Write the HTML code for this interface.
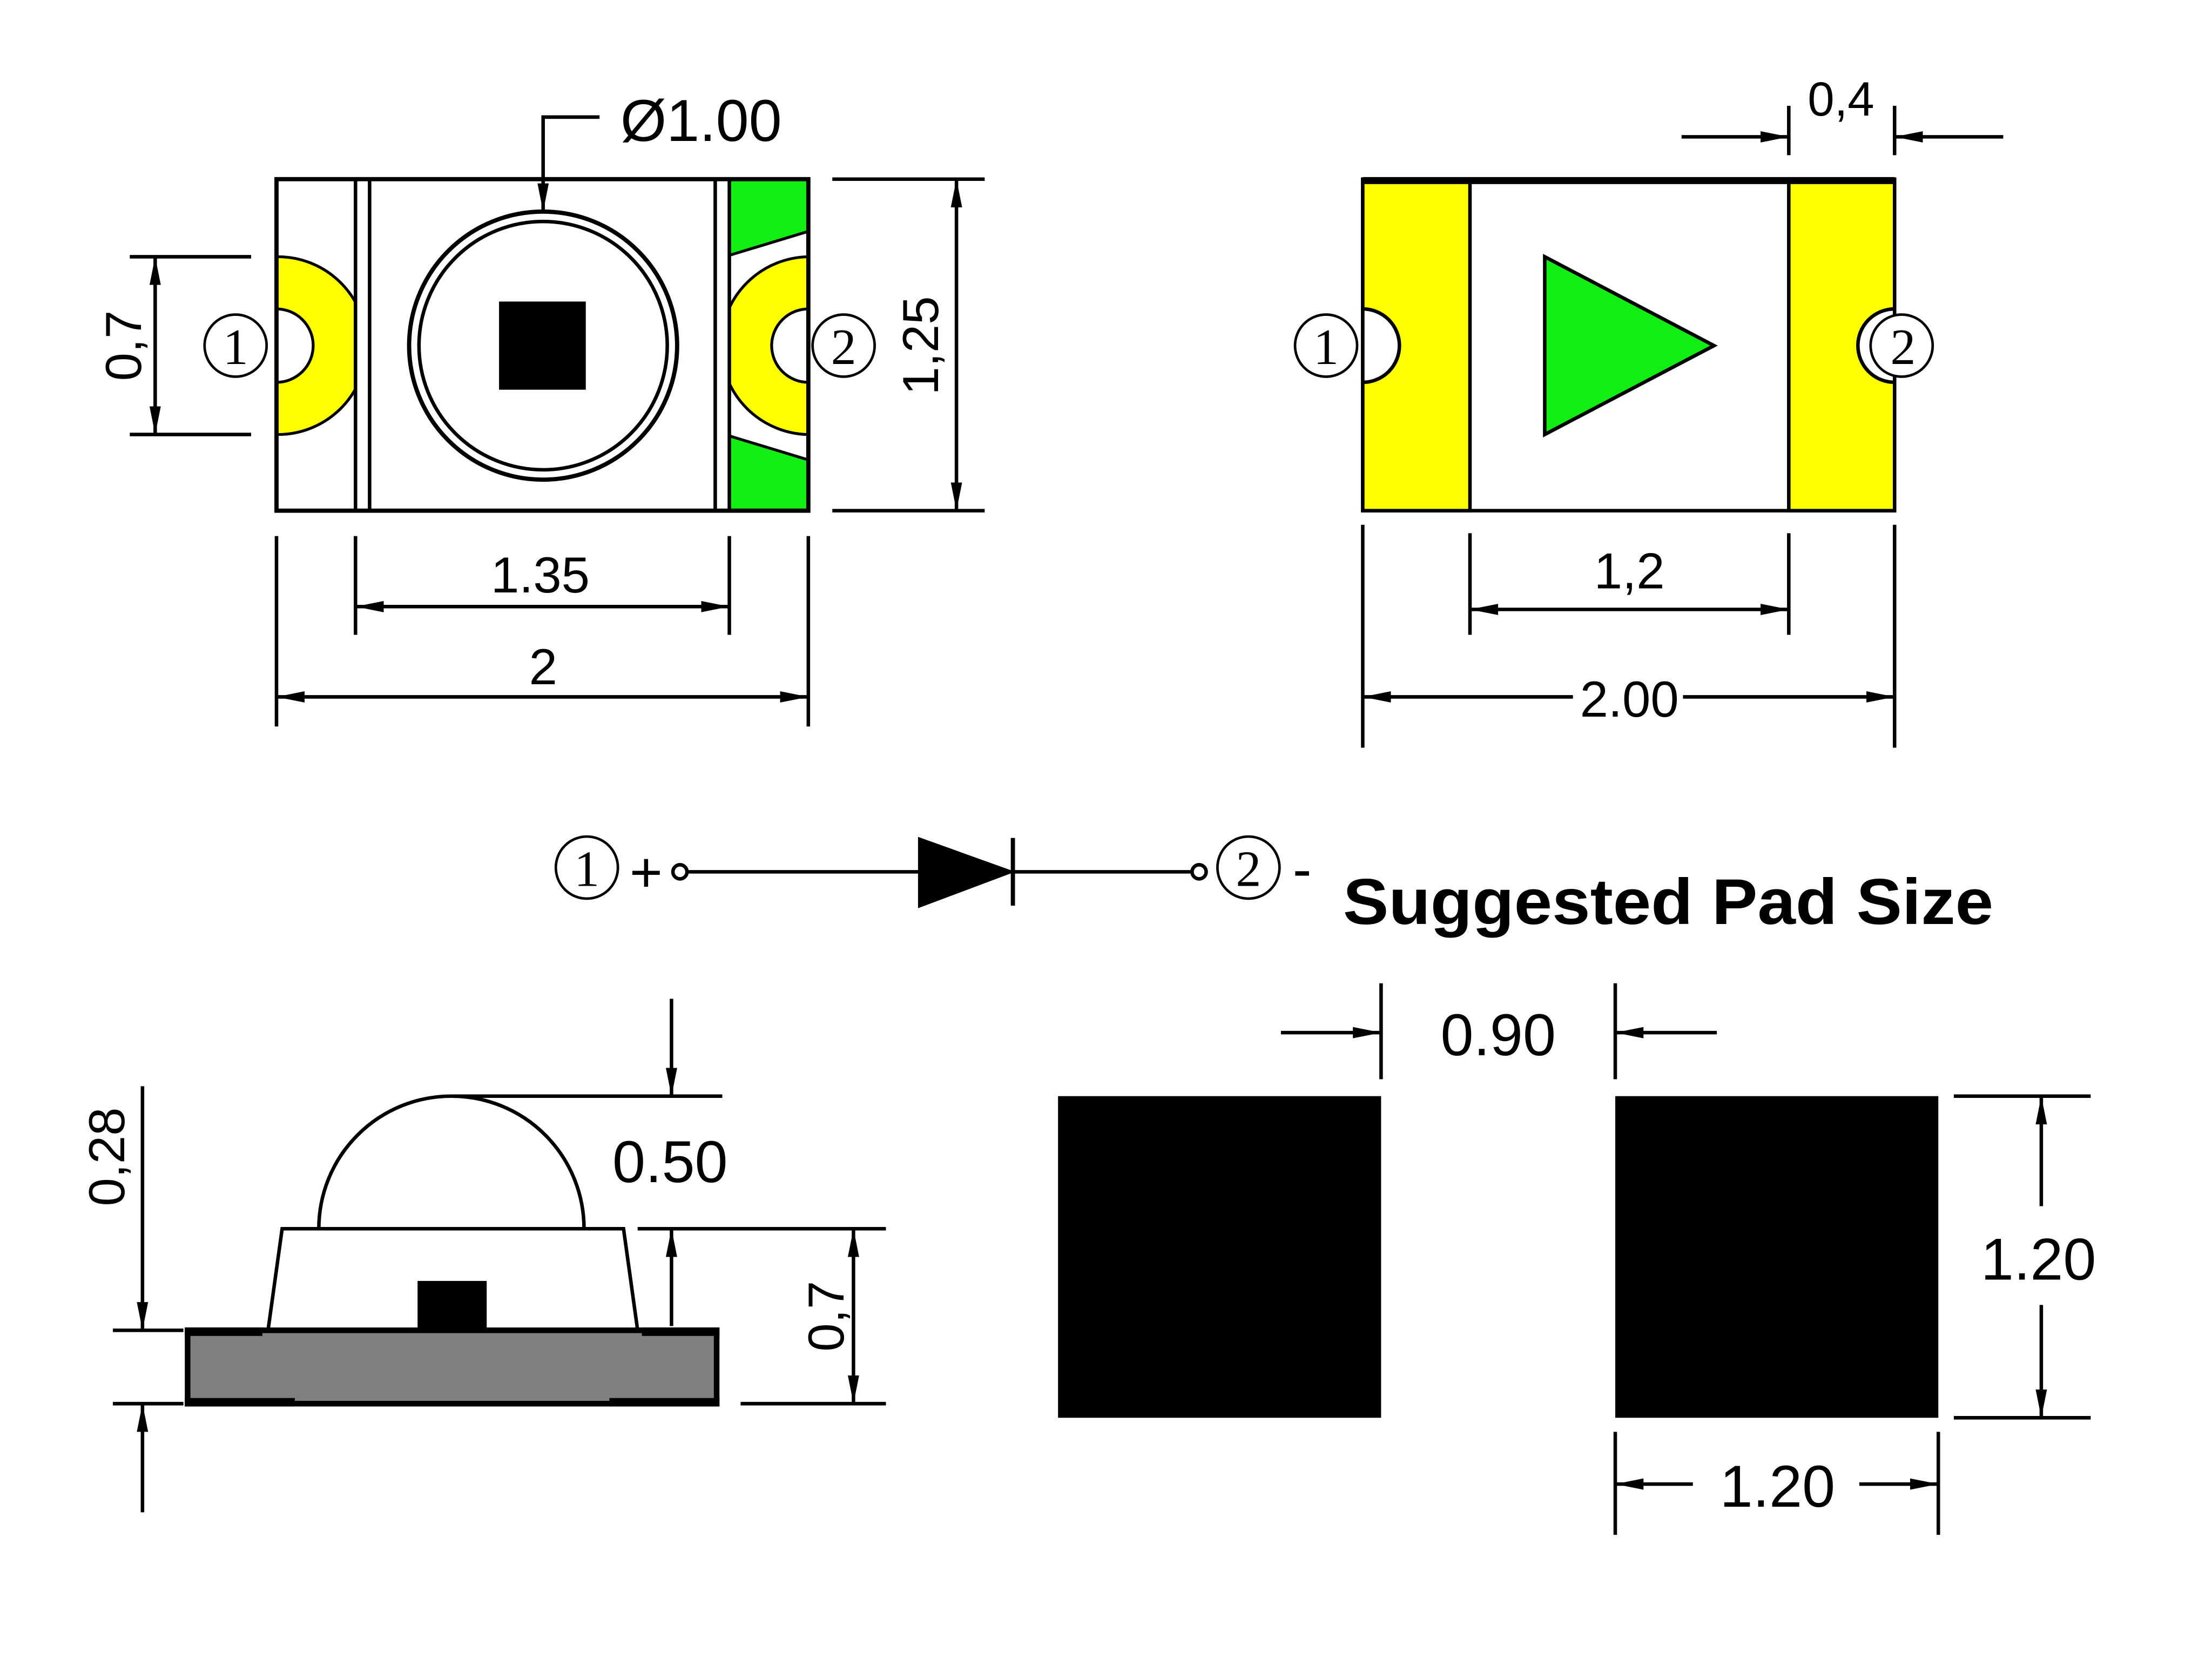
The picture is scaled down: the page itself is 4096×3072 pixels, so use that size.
<!DOCTYPE html>
<html><head><meta charset="utf-8"><style>html,body{margin:0;padding:0;background:#fff}svg{display:block}</style></head><body>
<svg width="4096" height="3072" viewBox="0 0 1568 1176" xmlns="http://www.w3.org/2000/svg" font-family="Liberation Sans, sans-serif">
<defs>
<marker id="a" viewBox="0 0 20 10" refX="20" refY="5" markerWidth="20" markerHeight="10" markerUnits="userSpaceOnUse" orient="auto-start-reverse"><path d="M0,1 L20,5 L0,9 Z" fill="#000"/></marker>
<clipPath id="cl"><rect x="196" y="127" width="56" height="235"/></clipPath>
<clipPath id="cr"><rect x="517" y="127" width="56" height="235"/></clipPath>
</defs>
<rect width="1568" height="1176" fill="#fff"/>
<g stroke="#000" stroke-width="2.5" fill="none">
<g clip-path="url(#cr)">
<polygon points="517,127 573,127 573,164 517,181" fill="#11ee11" stroke="#000" stroke-width="2"/>
<polygon points="517,309 573,326 573,362 517,362" fill="#11ee11" stroke="#000" stroke-width="2"/>
<circle cx="574" cy="245" r="63" fill="#ffff00" stroke="#000" stroke-width="2"/>
<circle cx="573" cy="245" r="26" fill="#fff" stroke="#000" stroke-width="2"/>
</g>
<g clip-path="url(#cl)">
<circle cx="197" cy="245" r="63" fill="#ffff00" stroke="#000" stroke-width="2"/>
<circle cx="196" cy="245" r="26" fill="#fff" stroke="#000" stroke-width="2"/>
</g>
<rect x="196" y="127" width="377" height="235" stroke-width="3"/>
<line x1="252" y1="127" x2="252" y2="362"/><line x1="262" y1="127" x2="262" y2="362"/>
<line x1="507" y1="127" x2="507" y2="362"/><line x1="517" y1="127" x2="517" y2="362"/>
<circle cx="385" cy="245" r="95" stroke-width="3"/><circle cx="385" cy="245" r="88"/>
<rect x="355" y="215" width="59" height="60" fill="#000"/>
<polyline points="425,83 385,83 385,150" marker-end="url(#a)"/>
<line x1="92" y1="182" x2="178" y2="182"/><line x1="92" y1="308" x2="178" y2="308"/>
<line x1="110" y1="182" x2="110" y2="308" marker-start="url(#a)" marker-end="url(#a)"/>
<line x1="590" y1="127" x2="698" y2="127"/><line x1="590" y1="362" x2="698" y2="362"/>
<line x1="678" y1="127" x2="678" y2="362" marker-start="url(#a)" marker-end="url(#a)"/>
<line x1="252" y1="380" x2="252" y2="450"/><line x1="517" y1="380" x2="517" y2="450"/>
<line x1="252" y1="430" x2="517" y2="430" marker-start="url(#a)" marker-end="url(#a)"/>
<line x1="196" y1="380" x2="196" y2="515"/><line x1="573" y1="380" x2="573" y2="515"/>
<line x1="196" y1="494" x2="573" y2="494" marker-start="url(#a)" marker-end="url(#a)"/>
<rect x="966" y="127" width="377" height="235"/>
<rect x="966" y="127" width="76" height="235" fill="#ffff00"/>
<rect x="1268" y="127" width="75" height="235" fill="#ffff00"/>
<line x1="966" y1="128" x2="1343" y2="128" stroke-width="5"/>
<path d="M966,219 A26,26 0 0 1 966,271 Z" fill="#fff"/>
<path d="M1343,219 A26,26 0 0 0 1343,271 Z" fill="#fff"/>
<polygon points="1095,182 1095,308 1215,245" fill="#11ee11"/>
<line x1="1268" y1="75" x2="1268" y2="110"/><line x1="1343" y1="75" x2="1343" y2="110"/>
<line x1="1192" y1="97" x2="1268" y2="97" marker-end="url(#a)"/>
<line x1="1420" y1="97" x2="1343" y2="97" marker-end="url(#a)"/>
<line x1="1042" y1="378" x2="1042" y2="450"/><line x1="1268" y1="378" x2="1268" y2="450"/>
<line x1="1042" y1="432" x2="1268" y2="432" marker-start="url(#a)" marker-end="url(#a)"/>
<line x1="966" y1="372" x2="966" y2="530"/><line x1="1343" y1="372" x2="1343" y2="530"/>
<line x1="966" y1="494" x2="1115" y2="494" marker-start="url(#a)"/>
<line x1="1193" y1="494" x2="1343" y2="494" marker-end="url(#a)"/>
<g stroke-width="1.8">
<circle cx="167" cy="245" r="22" fill="#fff"/>
<circle cx="598" cy="245" r="22" fill="#fff"/>
<circle cx="940" cy="245" r="22" fill="#fff"/>
<circle cx="1348" cy="245" r="22" fill="#fff"/>
<circle cx="416" cy="615" r="22" fill="#fff"/>
<circle cx="885" cy="615" r="22" fill="#fff"/>
</g>
<circle cx="482" cy="618" r="5"/><line x1="487" y1="618" x2="845" y2="618"/><circle cx="850" cy="618" r="5"/>
<polygon points="652,595 652,642 716,618" fill="#000"/>
<line x1="718" y1="594" x2="718" y2="642" stroke-width="3"/>
<path d="M226,871 A94,94 0 0 1 414,871"/>
<polygon points="200,871 442,871 452,943 190,943"/>
<rect x="133" y="943" width="375" height="52" fill="#808080" stroke-width="4"/>
<rect x="131" y="941" width="55" height="6" fill="#000" stroke="none"/>
<rect x="455" y="941" width="55" height="6" fill="#000" stroke="none"/>
<rect x="131" y="991" width="78" height="6" fill="#000" stroke="none"/>
<rect x="432" y="991" width="78" height="6" fill="#000" stroke="none"/>
<rect x="296" y="908" width="49" height="35" fill="#000" stroke="none"/>
<line x1="320" y1="777" x2="512" y2="777"/>
<line x1="476" y1="708" x2="476" y2="777" marker-end="url(#a)"/>
<line x1="452" y1="871" x2="628" y2="871"/>
<line x1="476" y1="940" x2="476" y2="871" marker-end="url(#a)"/>
<line x1="525" y1="995" x2="628" y2="995"/>
<line x1="605" y1="871" x2="605" y2="995" marker-start="url(#a)" marker-end="url(#a)"/>
<line x1="80" y1="943" x2="130" y2="943"/><line x1="80" y1="995" x2="130" y2="995"/>
<line x1="101" y1="770" x2="101" y2="943" marker-end="url(#a)"/>
<line x1="101" y1="1072" x2="101" y2="995" marker-end="url(#a)"/>
<rect x="750" y="777" width="229" height="228" fill="#000" stroke="none"/>
<rect x="1145" y="777" width="229" height="228" fill="#000" stroke="none"/>
<line x1="979" y1="697" x2="979" y2="765"/><line x1="1145" y1="697" x2="1145" y2="765"/>
<line x1="908" y1="732" x2="979" y2="732" marker-end="url(#a)"/>
<line x1="1217" y1="732" x2="1145" y2="732" marker-end="url(#a)"/>
<line x1="1385" y1="777" x2="1482" y2="777"/><line x1="1385" y1="1005" x2="1482" y2="1005"/>
<line x1="1447" y1="855" x2="1447" y2="777" marker-end="url(#a)"/>
<line x1="1447" y1="925" x2="1447" y2="1005" marker-end="url(#a)"/>
<line x1="1145" y1="1015" x2="1145" y2="1088"/><line x1="1374" y1="1015" x2="1374" y2="1088"/>
<line x1="1200" y1="1052" x2="1145" y2="1052" marker-end="url(#a)"/>
<line x1="1318" y1="1052" x2="1374" y2="1052" marker-end="url(#a)"/>
</g>
<g fill="#000" font-size="38" text-anchor="middle">
<text x="497" y="100" font-size="42">Ø1.00</text>
<text x="383" y="420" font-size="36">1.35</text>
<text x="385" y="485" font-size="36">2</text>
<text transform="translate(100,245) rotate(-90)" font-size="36">0,7</text>
<text transform="translate(665,245) rotate(-90)" font-size="36">1,25</text>
<text x="1305" y="82" font-size="34">0,4</text>
<text x="1155" y="417" font-size="36">1,2</text>
<text x="1155" y="508" font-size="36">2.00</text>
<text x="475" y="838" font-size="42">0.50</text>
<text transform="translate(598,933) rotate(-90)" font-size="36">0,7</text>
<text transform="translate(88,820) rotate(-90)" font-size="36">0,28</text>
<text x="1062" y="748" font-size="42">0.90</text>
<text x="1445" y="907" font-size="42">1.20</text>
<text x="1260" y="1068" font-size="42">1.20</text>
<g font-family="Liberation Serif, serif" font-size="36">
<text x="167" y="258">1</text>
<text x="598" y="258">2</text>
<text x="940" y="258">1</text>
<text x="1349" y="258">2</text>
<text x="416" y="628">1</text>
<text x="885" y="628">2</text>
</g>
<text x="458" y="632" font-size="40">+</text>
<text x="923" y="630" font-size="40">-</text>
</g>
<text x="952" y="655" font-size="46" font-weight="bold" fill="#000" textLength="461" lengthAdjust="spacingAndGlyphs">Suggested Pad Size</text>
</svg>
</body></html>
